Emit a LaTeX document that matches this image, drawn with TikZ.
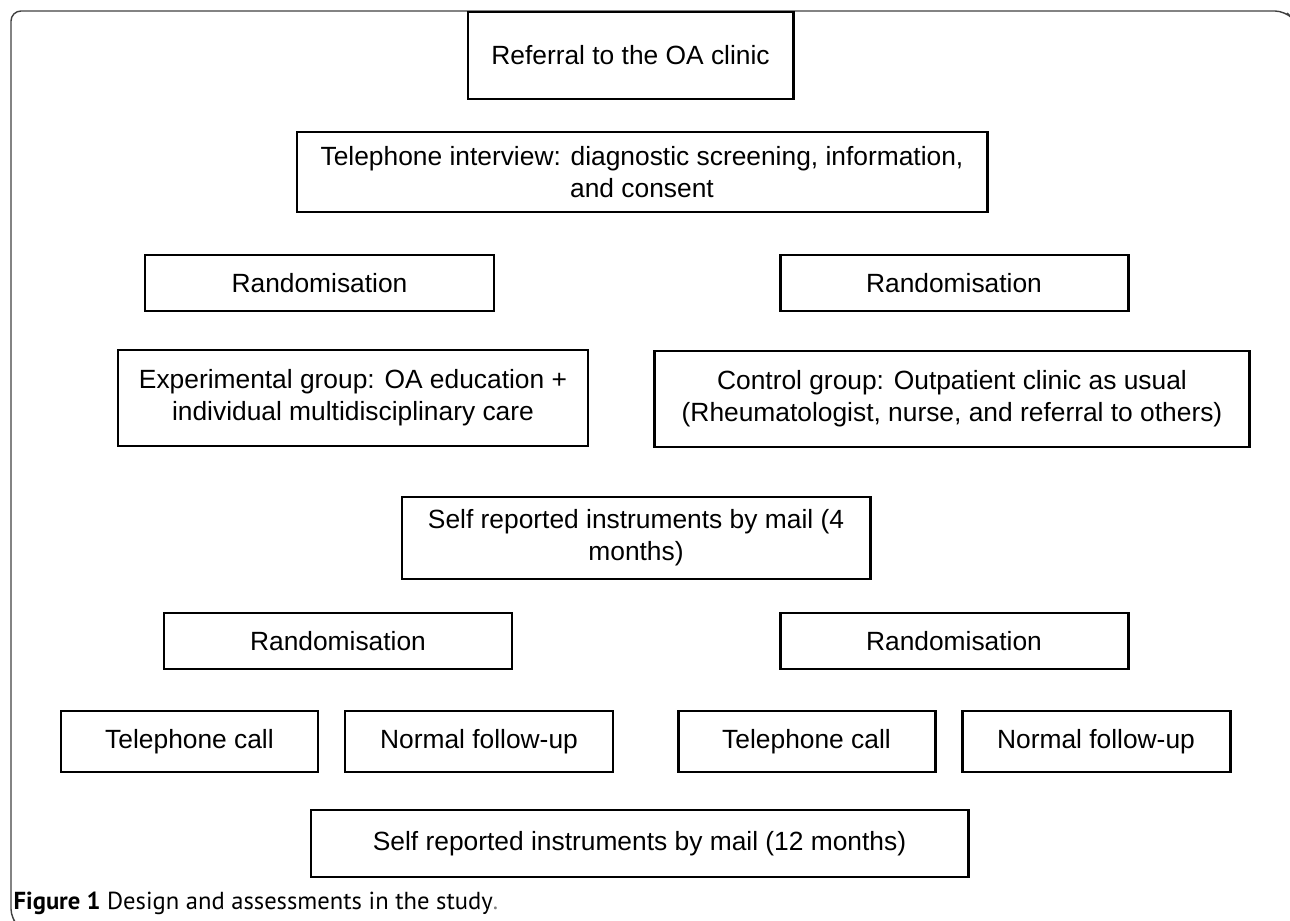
\documentclass[tikz,border=0pt]{standalone}
\usepackage{fontspec}
\setmainfont{Liberation Sans}
\newfontfamily\capfont{PT Sans}

\begin{document}
\begin{tikzpicture}[>=latex]
    \tikzstyle{every node}=[font=\fontsize{7.5}{9.1}\selectfont]
    \tikzstyle{stepbox}=[draw, line width=0.85pt, align=center, inner sep=0pt]

    \useasboundingbox (0,0) rectangle (12.9,-9.21);

    % frame of the figure
    \draw[black!75, line width=0.4pt, rounded corners=0.1cm]
    (12.87,-0.13) -- (12.85,-0.11) -- (0.11,-0.11) -- (0.11,-9.19) -- (0.13,-9.21);

    \node[stepbox, minimum width=3.25cm, minimum height=0.87cm] (referral)
    at (6.305,-0.555) {Referral to the OA clinic};

    \node[stepbox, minimum width=6.9cm, minimum height=0.8cm] (interview)
    at (6.42,-1.72) {Telephone interview: diagnostic screening, information, \\ and consent};

    \node[stepbox, minimum width=3.49cm, minimum height=0.56cm] (randA)
    at (3.195,-2.83) {Randomisation};

    \node[stepbox, minimum width=3.48cm, minimum height=0.56cm] (randB)
    at (9.54,-2.83) {Randomisation};

    \node[stepbox, minimum width=4.7cm, minimum height=0.96cm] (experimental)
    at (3.53,-3.98) {Experimental group: OA education + \\ individual multidisciplinary care};

    \node[stepbox, minimum width=5.95cm, minimum height=0.96cm] (control)
    at (9.52,-3.99) {Control group: Outpatient clinic as usual \\ (Rheumatologist, nurse, and referral to others)};

    \node[stepbox, minimum width=4.68cm, minimum height=0.82cm] (mailA)
    at (6.36,-5.38) {Self reported instruments by mail (4 \\ months)};

    \node[stepbox, minimum width=3.48cm, minimum height=0.56cm] (randC)
    at (3.38,-6.41) {Randomisation};

    \node[stepbox, minimum width=3.48cm, minimum height=0.56cm] (randD)
    at (9.54,-6.41) {Randomisation};

    \node[stepbox, minimum width=2.57cm, minimum height=0.61cm] (callA)
    at (1.895,-7.415) {Telephone call};

    \node[stepbox, minimum width=2.68cm, minimum height=0.61cm] (normalA)
    at (4.79,-7.415) {Normal follow-up};

    \node[stepbox, minimum width=2.57cm, minimum height=0.61cm] (callB)
    at (8.065,-7.415) {Telephone call};

    \node[stepbox, minimum width=2.68cm, minimum height=0.61cm] (normalB)
    at (10.96,-7.415) {Normal follow-up};

    \node[stepbox, minimum width=6.57cm, minimum height=0.67cm] (mailB)
    at (6.395,-8.435) {Self reported instruments by mail (12 months)};

    \node[anchor=base west, inner sep=0pt, font=\capfont\fontsize{7}{8}\selectfont] (caption)
    at (0.13,-9.09) {\textbf{Figure 1} Design and assessments in the study{\color{gray}.}};
\end{tikzpicture}
\end{document}
